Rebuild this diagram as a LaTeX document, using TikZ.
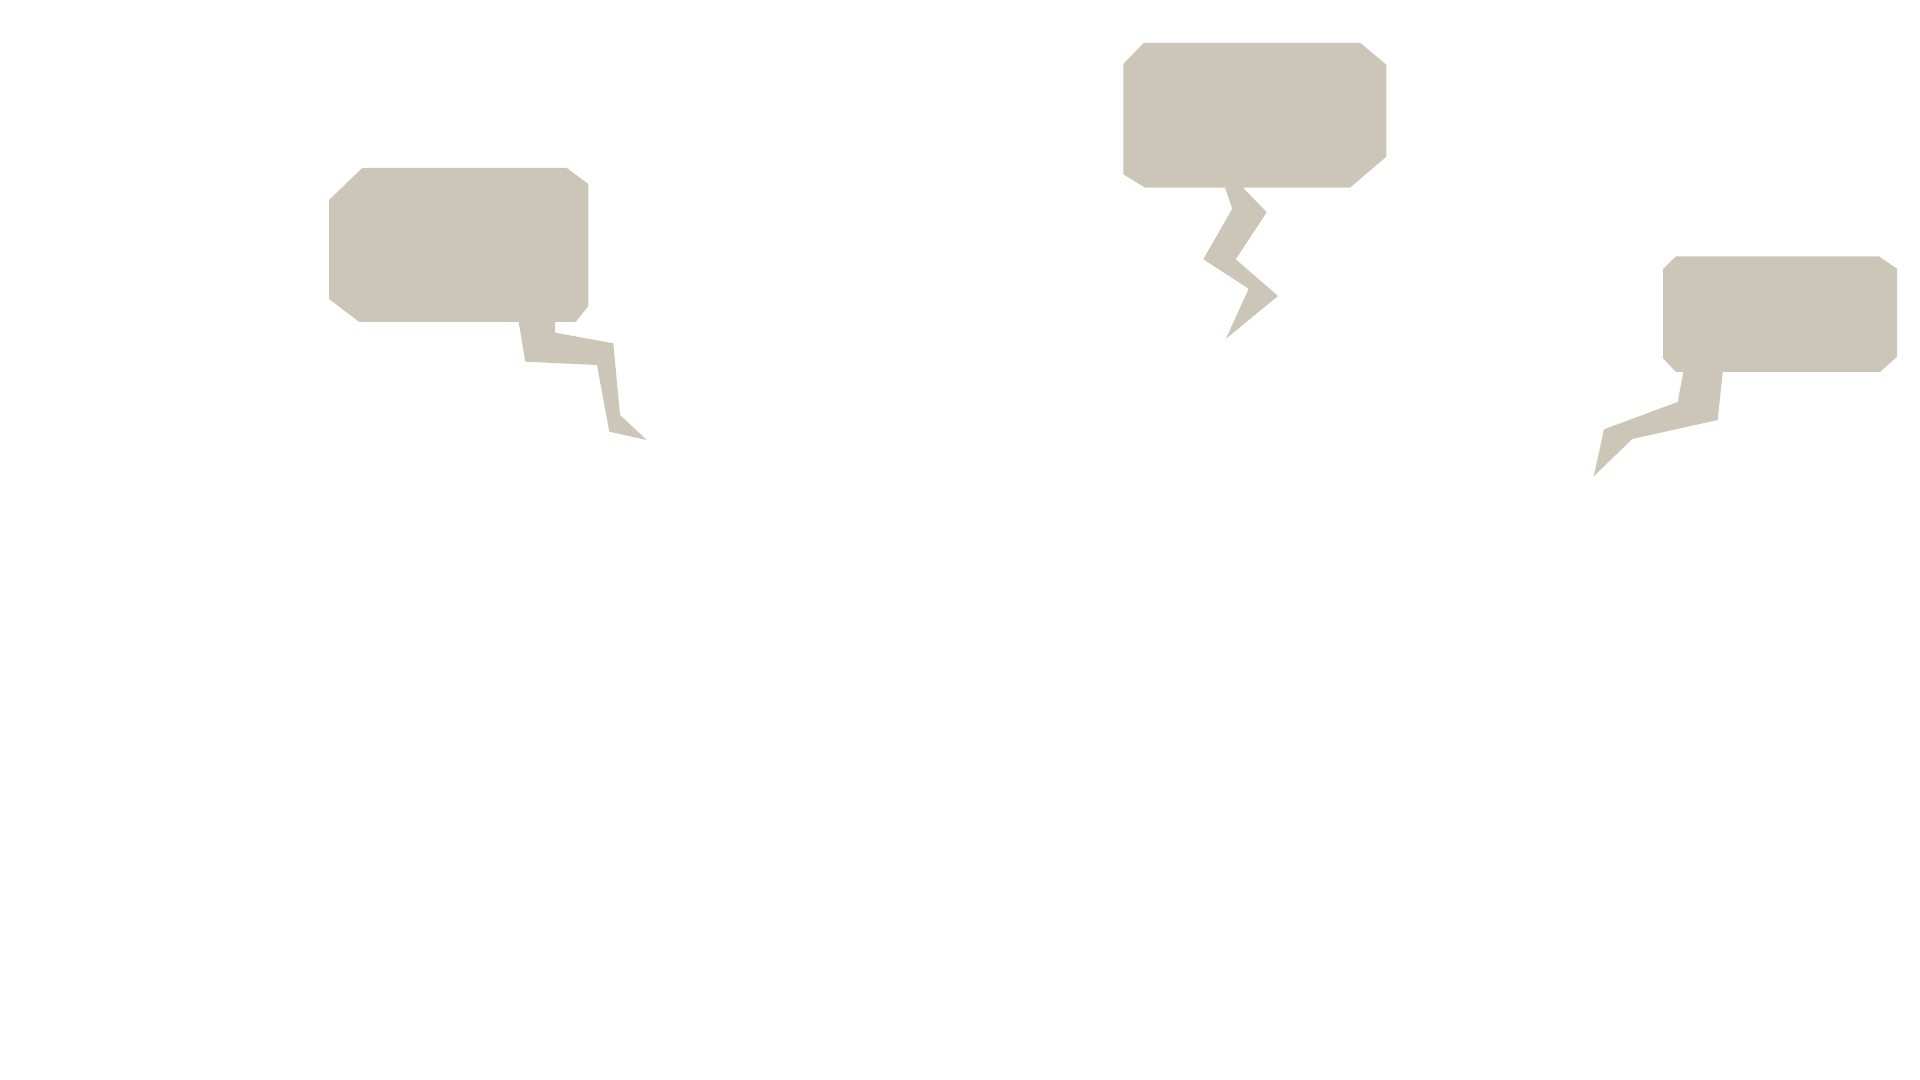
\documentclass[tikz,border=0pt]{standalone}
\usepackage{tikz}

\definecolor{bubblefill}{HTML}{CBC6B8}

\begin{document}
\begin{tikzpicture}[
    x=0.01cm, y=-0.01cm, % one unit is one pixel of the image
    bubble/.style={fill=bubblefill, draw=none}
]
    \useasboundingbox (0,0) rectangle (1920,1080);

    % Left bubble
    \fill [bubble] (362.3,168) -- (566.7,168) -- (588.3,184) -- (588.3,306)
        -- (575.7,322) -- (555,322) -- (555,332.7) -- (613.3,343.3)
        -- (620,415) -- (646.7,440) -- (609.3,431.7) -- (597,365)
        -- (525.3,361.7) -- (518.7,322) -- (359.3,322) -- (329,299)
        -- (329,200) -- cycle;

    % Middle bubble
    \fill [bubble] (1143.7,43) -- (1360.3,43) -- (1386.3,64.7) -- (1386.3,156.7)
        -- (1350,187.7) -- (1243,187.7) -- (1266.7,212.3) -- (1235.7,259.3)
        -- (1278,296) -- (1226,338.7) -- (1248.7,288.7) -- (1203.3,259.3)
        -- (1232.3,208.7) -- (1225,187.7) -- (1145.3,187.7) -- (1123.3,174.3)
        -- (1123.3,64) -- cycle;

    % Right bubble
    \fill [bubble] (1676,256.3) -- (1878.7,256.3) -- (1897,268.7) -- (1897,356.7)
        -- (1880,372) -- (1722.7,372) -- (1717.7,420) -- (1632.3,439)
        -- (1593.7,476.3) -- (1604,429.3) -- (1677.7,402) -- (1683.3,372)
        -- (1676,372) -- (1663,358.3) -- (1663,269) -- cycle;
\end{tikzpicture}
\end{document}
